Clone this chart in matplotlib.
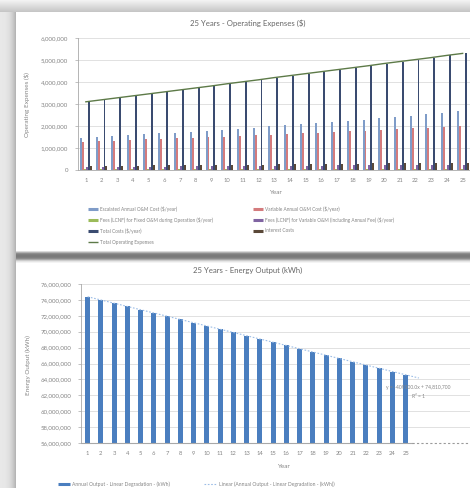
import numpy as np
import matplotlib
matplotlib.use("Agg")
import matplotlib.pyplot as plt
from matplotlib.lines import Line2D
from matplotlib.ticker import FuncFormatter, MultipleLocator

plt.rcParams['font.family'] = ['Lato', 'DejaVu Sans']

# ---- data -------------------------------------------------------------
years = list(range(1, 26))

# operating expenses, $ millions per year
escalated_om = [1.47, 1.51, 1.54, 1.58, 1.62, 1.66, 1.70, 1.75, 1.79, 1.84, 1.88, 1.93, 1.98,
                2.03, 2.08, 2.13, 2.18, 2.24, 2.29, 2.35, 2.41, 2.47, 2.53, 2.60, 2.66]
variable_om = [1.29, 1.31, 1.34, 1.36, 1.39, 1.41, 1.44, 1.47, 1.49, 1.52, 1.55, 1.58, 1.61,
               1.64, 1.67, 1.70, 1.73, 1.76, 1.79, 1.83, 1.86, 1.90, 1.93, 1.97, 2.00]
fees_fixed = [0.03, 0.03, 0.03, 0.03, 0.03, 0.03, 0.04, 0.04, 0.04, 0.04, 0.04, 0.04, 0.04,
              0.04, 0.04, 0.04, 0.04, 0.05, 0.05, 0.05, 0.05, 0.05, 0.05, 0.05, 0.05]
fees_variable = [0.13, 0.13, 0.14, 0.14, 0.15, 0.15, 0.16, 0.16, 0.17, 0.17, 0.18, 0.18, 0.19,
                 0.19, 0.20, 0.20, 0.21, 0.21, 0.22, 0.22, 0.23, 0.23, 0.24, 0.24, 0.25]
interest = [0.18, 0.19, 0.19, 0.20, 0.21, 0.21, 0.22, 0.23, 0.23, 0.24, 0.25, 0.25, 0.26,
            0.27, 0.27, 0.28, 0.29, 0.29, 0.30, 0.31, 0.31, 0.32, 0.33, 0.33, 0.34]
total_opex = [3.10, 3.19, 3.28, 3.37, 3.46, 3.55, 3.64, 3.73, 3.82, 3.92, 4.01, 4.10, 4.20,
              4.29, 4.38, 4.47, 4.56, 4.65, 4.74, 4.84, 4.93, 5.02, 5.11, 5.21, 5.30]

# energy output, million kWh per year
energy_output = [74.40, 73.99, 73.58, 73.17, 72.77, 72.36, 71.95, 71.54, 71.13, 70.72, 70.31,
                 69.90, 69.49, 69.08, 68.67, 68.27, 67.86, 67.45, 67.04, 66.63, 66.22, 65.81,
                 65.40, 64.99, 64.58]
# years 26-30 of the category axis carry no output
spare_years = [26, 27, 28, 29, 30]

opex_series = [
    ("Escalated Annual O&M Cost ($/year)", escalated_om, '#7f9cc8'),
    ("Variable Annual O&M Cost ($/year)", variable_om, '#d47b7d'),
    ("Fees (LCNF) for Fixed O&M during Operation ($/year)", fees_fixed, '#9bbb59'),
    ("Fees (LCNF) for Variable O&M (including Annual Fee) ($/year)", fees_variable, '#8064a2'),
    ("Total Costs ($/year)", total_opex, '#3a4b70'),
    ("Interest Costs", interest, '#5a4838'),
]
line_label = "Total Operating Expenses"
line_color = '#5d7a48'

W, H = 470, 488
fig = plt.figure(figsize=(W / 100, H / 100), dpi=100)

# ---- backdrop: two white panels on a grey desk --------------------------
bg = np.full((H, W, 3), 0.90)
r = np.arange(12) / 11
bg[:12, :, :] = (0.95 - 0.17 * r)[:, None, None]
c = np.arange(16) / 15
bg[12:, :16, :] = (0.91 - 0.20 * c ** 3)[None, :, None]
bg[12:251, 16:] = 1.0
bg[263:, 16:] = 1.0
band = np.array([0.86, 0.70, 0.56, 0.50, 0.48, 0.48, 0.50, 0.55, 0.66, 0.80, 0.90, 0.96])
bg[251:263, 16:] = band[:, None, None]
fig.figimage(bg, xo=0, yo=0, zorder=-5)

txt = '#858585'
grid = '#dcdcdc'
spine = '#a8a8a8'


def px(x, y):
    return x / W, 1 - y / H


def style(ax):
    ax.patch.set_alpha(0)
    for s in ('top', 'right'):
        ax.spines[s].set_visible(False)
    for s in ('left', 'bottom'):
        ax.spines[s].set_color(spine)
        ax.spines[s].set_linewidth(0.6)
    ax.yaxis.grid(True, color=grid, lw=0.6)
    ax.set_axisbelow(True)
    ax.tick_params(axis='y', labelsize=4.4, colors=spine, labelcolor=txt, length=2, width=0.5, pad=5)
    ax.tick_params(axis='x', labelsize=4.2, labelcolor=txt, length=0, pad=6)


comma = FuncFormatter(lambda v, p: f"{v:,.0f}")

# ---- top chart: operating expenses --------------------------------------
ax1 = fig.add_axes([78 / W, 1 - 170 / H, 392.5 / W, 132 / H])
style(ax1)
x = np.array(years)
bw = 0.125
for i, (lab, vals, col) in enumerate(opex_series):
    ax1.bar(x + (i - 2.5) * bw, np.array(vals) * 1e6, bw, color=col, lw=0)
ax1.plot(x, np.array(total_opex) * 1e6, color=line_color, lw=1.0)
ax1.set_xlim(0.5, 25.5)
ax1.set_ylim(0, 6e6)
ax1.yaxis.set_major_locator(MultipleLocator(1e6))
ax1.yaxis.set_major_formatter(comma)
ax1.set_xticks(years)

fig.text(*px(248, 23), "25 Years - Operating Expenses ($)", ha='center', va='center',
         fontsize=5.6, color='#666666')
fig.text(*px(27, 105), "Operating Expenses ($)", rotation=90, ha='center', va='center',
         fontsize=4.6, color=txt)
fig.text(*px(275, 193), "Year", ha='center', va='center', fontsize=4.6, color=txt)

# legend laid out in two columns, row by row
leg_cols = [88, 253]
leg_rows = [209, 220, 231, 242]
entries = [(lab, col, 'bar') for lab, _, col in opex_series] + [(line_label, line_color, 'line')]
for k, (lab, col, kind) in enumerate(entries):
    lx = leg_cols[k % 2]
    ly = leg_rows[k // 2]
    fig.add_artist(Line2D([lx / W, (lx + 10) / W], [1 - ly / H] * 2, transform=fig.transFigure,
                          color=col, lw=2.2 if kind == 'bar' else 1.0, solid_capstyle='butt'))
    fig.text(*px(lx + 12, ly), lab, ha='left', va='center', fontsize=3.4, color=txt)

# ---- bottom chart: energy output ----------------------------------------
ax2 = fig.add_axes([81 / W, 1 - 443 / H, 397.5 / W, 159 / H])
style(ax2)
ax2.spines['bottom'].set_visible(False)
e = np.array(energy_output) * 1e6
ax2.bar(x, e, 0.38, color='#4a7ebf', lw=0, zorder=2)
ax2.set_xlim(0.5, 30.5)
ax2.set_ylim(56e6, 76e6)
ax2.yaxis.set_major_locator(MultipleLocator(2e6))
ax2.yaxis.set_major_formatter(comma)
ax2.set_xticks(years)

# axis baseline: solid under the bars, dotted along the empty years
ax2.plot([0.5, 25.5], [56e6, 56e6], color=spine, lw=0.8, clip_on=False, zorder=3)
ax2.plot([spare_years[0] - 0.5, spare_years[-1] + 0.5], [56e6, 56e6], color='#9a9a9a',
         lw=0.8, ls=(0, (2, 2)), clip_on=False, zorder=3)

# linear trendline fitted to the annual output
slope, intercept = np.polyfit(x, e, 1)
fit = slope * x + intercept
r2 = 1 - np.sum((e - fit) ** 2) / np.sum((e - e.mean()) ** 2)
tx = np.array([1, 26])
ax2.plot(tx, slope * tx + intercept, color='#9cbde6', lw=0.8, ls=(0, (1.5, 1.5)), zorder=3)
fig.text(*px(418, 387), f"y = {slope:.1f}x + {intercept:,.0f}", ha='center', va='center',
         fontsize=3.6, color=txt)
fig.text(*px(418, 397), f"R\u00b2 = {r2:.4g}", ha='center', va='center', fontsize=3.6, color=txt)

fig.text(*px(248, 270), "25 Years - Energy Output (kWh)", ha='center', va='center',
         fontsize=5.6, color='#666666')
fig.text(*px(28, 365), "Energy Output (kWh)", rotation=90, ha='center', va='center',
         fontsize=4.6, color=txt)
fig.text(*px(283, 466), "Year", ha='center', va='center', fontsize=4.6, color=txt)

fig.add_artist(Line2D([58 / W, 70 / W], [1 - 484 / H] * 2, transform=fig.transFigure,
                      color='#4a7ebf', lw=2.2, solid_capstyle='butt'))
fig.text(*px(72, 484), "Annual Output - Linear Degradation - (kWh)", ha='left', va='center',
         fontsize=3.6, color=txt)
fig.add_artist(Line2D([204 / W, 216 / W], [1 - 484 / H] * 2, transform=fig.transFigure,
                      color='#9cbde6', lw=0.8, ls=(0, (1.5, 1.5))))
fig.text(*px(219, 484), "Linear (Annual Output - Linear Degradation - (kWh))", ha='left',
         va='center', fontsize=3.6, color=txt)

fig.savefig("out.png", dpi=100)
